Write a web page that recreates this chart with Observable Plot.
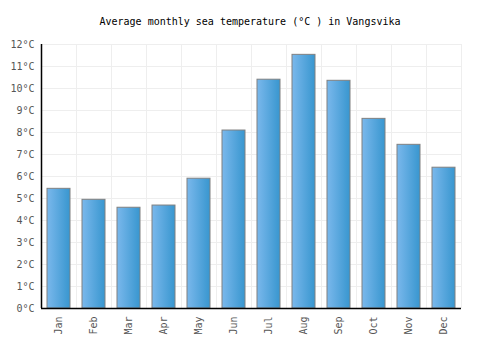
<!DOCTYPE html>
<html>
<head>
<meta charset="utf-8">
<script src="https://cdn.jsdelivr.net/npm/d3@7"></script>
<script src="https://cdn.jsdelivr.net/npm/@observablehq/plot@0.6"></script>
<style>
  html, body { margin: 0; padding: 0; background: #fff; }
  #wrap { width: 500px; height: 350px; overflow: hidden; }
  #title { height: 35px; box-sizing: border-box; padding-top: 16px; font: 10px/12px "DejaVu Sans Mono", monospace; color: #000; text-align: center; white-space: pre; }
</style>
</head>
<body>
<div id="wrap">
  <div id="title"></div>
  <div id="chart"></div>
</div>
<script>
const title = "Average monthly sea temperature (°C ) in Vangsvika";
const months = ["Jan", "Feb", "Mar", "Apr", "May", "Jun", "Jul", "Aug", "Sep", "Oct", "Nov", "Dec"];
const temps = [5.44, 4.94, 4.58, 4.68, 5.9, 8.09, 10.4, 11.53, 10.35, 8.62, 7.44, 6.4];
const yTicks = [0, 1, 2, 3, 4, 5, 6, 7, 8, 9, 10, 11, 12];
const unit = "°C";

document.getElementById("title").textContent = title;
const data = months.map((m, i) => ({month: m, temp: temps[i]}));

const chart = Plot.plot({
  width: 500,
  height: 315,
  marginTop: 9,
  marginBottom: 42,
  marginLeft: 41,
  marginRight: 39,
  style: {fontFamily: "'DejaVu Sans Mono', monospace", fontSize: "10px", background: "#fff"},
  x: {domain: months, paddingInner: 0.33, paddingOuter: 0.165, label: null},
  y: {domain: [0, 12], label: null},
  marks: [
    Plot.ruleY(yTicks, {y: d => d, stroke: "#eeeeee", strokeWidth: 1}),
    Plot.ruleX(months, {x: d => d, dx: -17.5, stroke: "#eeeeee", strokeWidth: 1}),
    Plot.ruleX(months.slice(-1), {x: d => d, dx: 17.5, stroke: "#eeeeee", strokeWidth: 1}),
    Plot.barY(data, {x: "month", y: "temp", fill: "url(#barGrad)", stroke: "#808080", strokeWidth: 1}),
    Plot.ruleX(months.slice(0, 1), {x: d => d, dx: -17.5, stroke: "#000", strokeWidth: 1.5}),
    Plot.ruleY([0], {stroke: "#000", strokeWidth: 1.5}),
    Plot.axisY({ticks: yTicks, tickFormat: d => d + unit, tickSize: 0, tickPadding: 7, fill: "#555", fontSize: 10}),
    Plot.axisX({tickSize: 0, tickPadding: 8, tickRotate: -90, fill: "#555", fontSize: 10})
  ]
});

const ns = "http://www.w3.org/2000/svg";
const defs = document.createElementNS(ns, "defs");
const grad = document.createElementNS(ns, "linearGradient");
grad.setAttribute("id", "barGrad");
grad.setAttribute("x1", "0"); grad.setAttribute("x2", "1");
grad.setAttribute("y1", "0"); grad.setAttribute("y2", "0");
[["0%", "#7ab8ec"], ["100%", "#3896cf"]].forEach(([o, c]) => {
  const s = document.createElementNS(ns, "stop");
  s.setAttribute("offset", o); s.setAttribute("stop-color", c);
  grad.appendChild(s);
});
defs.appendChild(grad);
chart.insertBefore(defs, chart.firstChild);
document.getElementById("chart").appendChild(chart);
</script>
</body>
</html>
